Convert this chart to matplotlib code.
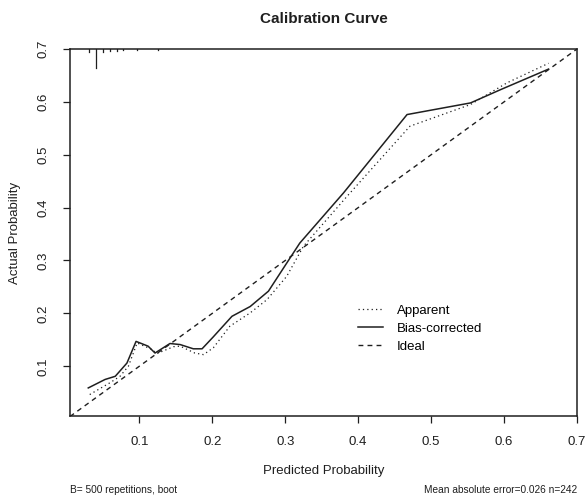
import matplotlib
matplotlib.use("Agg")
import matplotlib.pyplot as plt

# predicted probability vs actual probability
app_x = [0.032, 0.060, 0.0735, 0.085, 0.097, 0.117, 0.124, 0.147, 0.156,
         0.176, 0.188, 0.2015, 0.224, 0.252, 0.275, 0.302, 0.325, 0.3845,
         0.471, 0.554, 0.604, 0.661]
app_y = [0.0465, 0.069, 0.081, 0.100, 0.144, 0.132, 0.124, 0.137, 0.138,
         0.125, 0.122, 0.135, 0.1756, 0.201, 0.226, 0.270, 0.327, 0.421,
         0.554, 0.595, 0.636, 0.673]

bc_x = [0.030, 0.053, 0.067, 0.083, 0.0955, 0.112, 0.1215, 0.142, 0.156,
        0.174, 0.186, 0.201, 0.227, 0.252, 0.277, 0.302, 0.320, 0.380,
        0.467, 0.554, 0.595, 0.661]
bc_y = [0.059, 0.075, 0.081, 0.106, 0.147, 0.138, 0.125, 0.143, 0.141,
        0.133, 0.133, 0.155, 0.1945, 0.213, 0.242, 0.295, 0.333, 0.428,
        0.576, 0.598, 0.623, 0.662]

# distribution of predictions (rug at the top)
rug_x = [0.031, 0.040, 0.050, 0.060, 0.069, 0.078, 0.097, 0.126]
rug_n = [7, 52, 7, 6, 5, 4, 3, 3]

lims = (0.005, 0.7)
ticks = [0.1, 0.2, 0.3, 0.4, 0.5, 0.6, 0.7]
ink = "#1f1f1f"

plt.rcParams["font.family"] = ["Liberation Sans", "DejaVu Sans"]

fig = plt.figure(figsize=(5.87, 5.03), dpi=100)
ax = fig.add_axes([0.1193, 0.172, 0.8637, 0.7306])

ax.plot(lims, lims, color=ink, lw=1.0, dashes=(3.5, 3), label="Ideal")
ax.plot(app_x, app_y, color=ink, lw=0.9, dashes=(1, 2.5), label="Apparent")
ax.plot(bc_x, bc_y, color=ink, lw=1.1, label="Bias-corrected")

# rug segments hanging from the top border
scale = 0.0365 / 52
for x, n in zip(rug_x, rug_n):
    ax.plot([x, x], [lims[1], lims[1] - n * scale], color=ink, lw=0.9)

ax.set_xlim(lims)
ax.set_ylim(lims)
ax.set_xticks(ticks)
ax.set_yticks(ticks)
ax.set_xticklabels([str(t) for t in ticks])
ax.set_yticklabels([str(t) for t in ticks], rotation=90, va="center")
ax.tick_params(direction="out", length=5, width=0.9, colors=ink,
               labelsize=9.5)
ax.tick_params(axis="x", pad=9)
ax.tick_params(axis="y", pad=10)
for s in ax.spines.values():
    s.set_linewidth(1.1)
    s.set_color(ink)

ax.set_xlabel("Predicted Probability", fontsize=9.5, color=ink, labelpad=12)
ax.set_ylabel("Actual Probability", fontsize=9.5, color=ink, labelpad=12)
ax.set_title("Calibration Curve", fontsize=11, fontweight="bold",
             color=ink, pad=19)

h, l = ax.get_legend_handles_labels()
order = [1, 2, 0]
ax.legend([h[i] for i in order], [l[i] for i in order], frameon=False,
          loc="upper left", bbox_to_anchor=(0.568, 0.305), fontsize=9.5,
          handlelength=1.9, handletextpad=1.05, labelspacing=0.45,
          borderpad=0, borderaxespad=0)

fig.text(0.1193, 0.026, "B= 500 repetitions, boot", fontsize=7.3,
         color=ink, ha="left", va="center")
fig.text(0.983, 0.026, "Mean absolute error=0.026 n=242", fontsize=7.3,
         color=ink, ha="right", va="center")

fig.savefig("out.png", dpi=100)
